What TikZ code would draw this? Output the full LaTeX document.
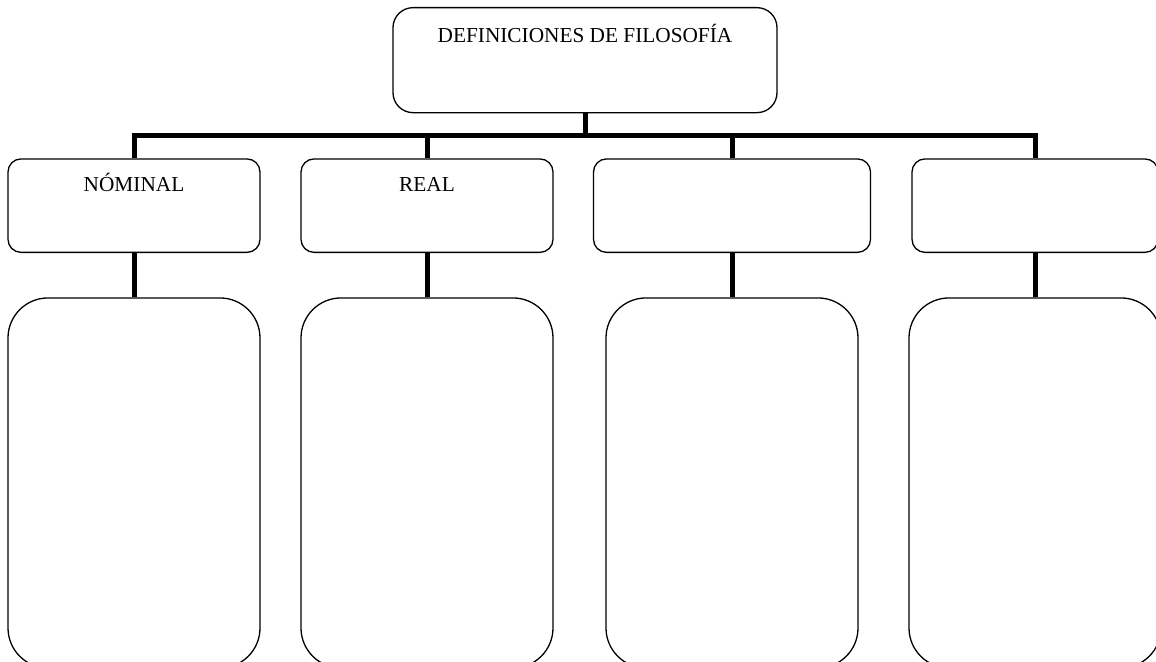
\documentclass[tikz,border=0pt]{standalone}
\usepackage{fontspec}
\setmainfont{Liberation Serif}
\begin{document}
\begin{tikzpicture}[
  x=1pt, y=-1pt,
  every node/.style={draw, line width=1.3pt, anchor=north, inner xsep=0pt, font=\fontsize{21.3}{25}\selectfont},
  head/.style={rounded corners=20pt, inner ysep=20pt, text height=15pt, text depth=50pt},
  kind/.style={rounded corners=13pt, inner ysep=17.4pt, text height=15pt, text depth=43.6pt},
  detail/.style={rounded corners=40pt, minimum width=252pt, minimum height=370pt},
  link/.style={line width=5pt, line join=miter}
]
\useasboundingbox (0,0) rectangle (1156,661);
\clip (0,0) rectangle (1156,661);

\node[head, minimum width=384pt] (t) at (585,7) {DEFINICIONES DE FILOSOF\'IA};

\node[kind, minimum width=252pt] (a) at (134,158.3) {N\'OMINAL};
\node[kind, minimum width=252pt] (b) at (427,158.3) {REAL};
\node[kind, minimum width=277pt] (c) at (732,158.3) {};
\node[kind, minimum width=246pt] (d) at (1035,158.3) {};

\node[detail] (a2) at (134,297.3) {};
\node[detail] (b2) at (427,297.3) {};
\node[detail] (c2) at (732,297.3) {};
\node[detail] (d2) at (1035,297.3) {};

\coordinate (bar) at (585,135.5);
\draw[link] (t.south) -- (t.south |- bar);
\draw[link] (a.north) -- (a.north |- bar) -- (d.north |- bar) -- (d.north);
\draw[link] (b.north) -- (b.north |- bar);
\draw[link] (c.north) -- (c.north |- bar);

\draw[link] (a.south) -- (a2.north);
\draw[link] (b.south) -- (b2.north);
\draw[link] (c.south) -- (c2.north);
\draw[link] (d.south) -- (d2.north);
\end{tikzpicture}
\end{document}
